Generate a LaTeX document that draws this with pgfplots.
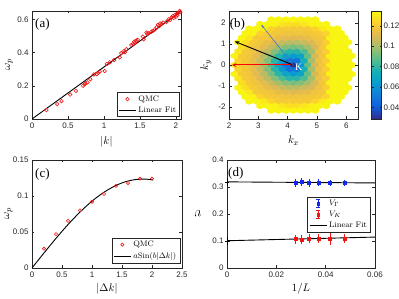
\documentclass[border=0pt]{standalone}
\usepackage{fontspec}
\usepackage{pgfplots}
\pgfplotsset{compat=1.18}
\usetikzlibrary{arrows.meta}
\newfontfamily\arialfont{Liberation Sans}
\newfontfamily\timesfont{Liberation Serif}
\definecolor{axgray}{RGB}{38,38,38}
\definecolor{arrblue}{RGB}{70,120,200}
\definecolor{mred}{RGB}{240,20,20}
\definecolor{ared}{RGB}{255,0,0}
\definecolor{mblue}{RGB}{20,40,240}
\pgfplotsset{
  colormap={parula}{rgb255=(53,42,135) rgb255=(15,92,221) rgb255=(18,125,216) rgb255=(7,156,207) rgb255=(21,177,180) rgb255=(89,189,140) rgb255=(165,190,107) rgb255=(225,185,82) rgb255=(252,206,46) rgb255=(249,251,14)},
  matlab/.style={scale only axis, anchor=south west,
    axis line style={axgray, line width=0.5pt},
    every tick/.style={axgray, line width=0.5pt},
    major tick length=2.5pt,
    scaled ticks=false,
    tick label style={font=\arialfont\fontsize{8}{9}\selectfont, text=axgray},
    label style={font=\fontsize{11}{12}\selectfont},
    legend style={font=\fontsize{8}{9}\selectfont, draw=axgray, line width=0.5pt, inner xsep=1.5pt, inner ysep=1pt},
    legend cell align=left,
  },
}
\pgfdeclareplotmark{hexa}{%
  \pgfpathmoveto{\pgfqpoint{0pt}{3.05pt}}%
  \pgfpathlineto{\pgfqpoint{3.68pt}{1.52pt}}%
  \pgfpathlineto{\pgfqpoint{3.68pt}{-1.52pt}}%
  \pgfpathlineto{\pgfqpoint{0pt}{-3.05pt}}%
  \pgfpathlineto{\pgfqpoint{-3.68pt}{-1.52pt}}%
  \pgfpathlineto{\pgfqpoint{-3.68pt}{1.52pt}}%
  \pgfpathclose
  \pgfusepathqfillstroke}
\begin{document}
\begin{tikzpicture}
\useasboundingbox (0,0) rectangle (399pt,299pt);
% ---------------- (a)
\begin{axis}[matlab, at={(32pt,180pt)}, width=149pt, height=108pt,
  xmin=0, xmax=2.07, ymin=0, ymax=0.65,
  xtick={0,0.5,1,1.5,2}, xticklabels={0,0.5,1,1.5,2},
  ytick={0,0.2,0.4,0.6}, yticklabels={0,0.2,0.4,0.6},
  xlabel={$|k|$}, ylabel={$\omega_p$},
  xlabel style={at={(axis description cs:0.5,-0.213)}, anchor=center},
  ylabel style={at={(axis description cs:-0.154,0.5)}, anchor=center},
  legend style={at={(0.993,0.0185)}, anchor=south east}]
\addplot[only marks, mark=o, mark size=1.8pt, mred, line width=0.6pt] coordinates {
(0.20,0.054) (0.35,0.090) (0.41,0.108) (0.53,0.147) (0.61,0.169) (0.71,0.200) (0.73,0.209) (0.74,0.215) (0.77,0.220) (0.81,0.239) (0.86,0.268) (0.90,0.270) (0.92,0.277) (0.94,0.285) (1.01,0.289) (1.04,0.331) (1.08,0.341) (1.14,0.355) (1.22,0.371) (1.24,0.396) (1.28,0.410) (1.29,0.402) (1.31,0.420) (1.38,0.445) (1.40,0.450) (1.42,0.466) (1.43,0.458) (1.45,0.472) (1.47,0.476) (1.55,0.480) (1.54,0.496) (1.59,0.520) (1.60,0.512) (1.62,0.516) (1.66,0.526) (1.68,0.530) (1.71,0.540) (1.73,0.552) (1.75,0.566) (1.77,0.560) (1.78,0.575) (1.80,0.572) (1.82,0.580) (1.87,0.585) (1.90,0.600) (1.92,0.596) (1.94,0.612) (1.96,0.620) (1.97,0.608) (1.99,0.627) (2.00,0.615) (2.01,0.633) (2.02,0.625) (2.03,0.637) (2.06,0.643) (2.05,0.650)};
\addlegendentry{QMC}
\addplot[black, line width=0.9pt] coordinates {(0,0) (2.07,0.648)};
\addlegendentry{Linear Fit}
\node[anchor=north west, inner sep=0pt, font=\timesfont\fontsize{13}{13}\selectfont] at (rel axis cs:0.02,0.935) {(a)};
\end{axis}
% ---------------- (b)
\begin{axis}[matlab, at={(229pt,180pt)}, width=129pt, height=108pt, axis on top, clip marker paths=true,
  xmin=2, xmax=6.4, ymin=-2.57, ymax=2.57,
  xtick={2,3,4,5,6}, xticklabels={2,3,4,5,6},
  ytick={-2,-1,0,1,2}, yticklabels={-2,-1,0,1,2},
  xlabel={$k_x$}, ylabel={$k_y$},
  xlabel style={at={(axis description cs:0.5,-0.2)}, anchor=center},
  ylabel style={at={(axis description cs:-0.178,0.5)}, anchor=center},
  colormap name=parula, point meta min=0.0285, point meta max=0.1345,
  colorbar,
  colorbar style={at={(parent axis.north east)}, anchor=north west, xshift=5pt, width=10pt,
    scaled y ticks=false,
    ytick={0.04,0.06,0.08,0.1,0.12}, yticklabels={0.04,0.06,0.08,0.1,0.12},
    yticklabel style={font=\arialfont\fontsize{8}{9}\selectfont, text=axgray, inner sep=0pt, xshift=2pt},
    axis line style={axgray, line width=0.5pt}, major tick length=2pt,
    every tick/.style={axgray, line width=0.5pt}}]
\addplot[scatter, only marks, mark=hexa, point meta=explicit,
  scatter/use mapped color={draw=mapped color, fill=mapped color}, mark options={line width=0.3pt}] coordinates {
(2.19,0)[0.130] (2.44,0)[0.120] (2.69,0)[0.117] (2.94,0)[0.110] (3.19,0)[0.099] (3.44,0)[0.085] (3.69,0)[0.068] (3.94,0)[0.049] (4.19,0)[0.030] (4.44,0)[0.061] (4.69,0)[0.089] (4.94,0)[0.109] (5.19,0)[0.119] (5.44,0)[0.132] (5.69,0)[0.133] (5.94,0)[0.133] (6.19,0)[0.133]
(2.315,0.2165)[0.124] (2.565,0.2165)[0.119] (2.815,0.2165)[0.114] (3.065,0.2165)[0.106] (3.315,0.2165)[0.094] (3.565,0.2165)[0.079] (3.815,0.2165)[0.063] (4.065,0.2165)[0.049] (4.315,0.2165)[0.049] (4.565,0.2165)[0.076] (4.815,0.2165)[0.100] (5.065,0.2165)[0.116] (5.315,0.2165)[0.122] (5.565,0.2165)[0.133] (5.815,0.2165)[0.133] (6.065,0.2165)[0.133]
(2.315,-0.2165)[0.124] (2.565,-0.2165)[0.119] (2.815,-0.2165)[0.114] (3.065,-0.2165)[0.106] (3.315,-0.2165)[0.094] (3.565,-0.2165)[0.079] (3.815,-0.2165)[0.063] (4.065,-0.2165)[0.049] (4.315,-0.2165)[0.049] (4.565,-0.2165)[0.076] (4.815,-0.2165)[0.100] (5.065,-0.2165)[0.116] (5.315,-0.2165)[0.122] (5.565,-0.2165)[0.133] (5.815,-0.2165)[0.133] (6.065,-0.2165)[0.133]
(2.19,0.433)[0.132] (2.44,0.433)[0.120] (2.69,0.433)[0.118] (2.94,0.433)[0.112] (3.19,0.433)[0.103] (3.44,0.433)[0.092] (3.69,0.433)[0.079] (3.94,0.433)[0.068] (4.19,0.433)[0.063] (4.44,0.433)[0.068] (4.69,0.433)[0.089] (4.94,0.433)[0.109] (5.19,0.433)[0.119] (5.44,0.433)[0.132] (5.69,0.433)[0.133] (5.94,0.433)[0.133] (6.19,0.433)[0.133]
(2.19,-0.433)[0.132] (2.44,-0.433)[0.120] (2.69,-0.433)[0.118] (2.94,-0.433)[0.112] (3.19,-0.433)[0.103] (3.44,-0.433)[0.092] (3.69,-0.433)[0.079] (3.94,-0.433)[0.068] (4.19,-0.433)[0.063] (4.44,-0.433)[0.068] (4.69,-0.433)[0.089] (4.94,-0.433)[0.109] (5.19,-0.433)[0.119] (5.44,-0.433)[0.132] (5.69,-0.433)[0.133] (5.94,-0.433)[0.133] (6.19,-0.433)[0.133]
(2.315,0.6495)[0.129] (2.565,0.6495)[0.120] (2.815,0.6495)[0.117] (3.065,0.6495)[0.111] (3.315,0.6495)[0.103] (3.565,0.6495)[0.094] (3.815,0.6495)[0.085] (4.065,0.6495)[0.079] (4.315,0.6495)[0.079] (4.565,0.6495)[0.085] (4.815,0.6495)[0.100] (5.065,0.6495)[0.116] (5.315,0.6495)[0.122] (5.565,0.6495)[0.133] (5.815,0.6495)[0.133] (6.065,0.6495)[0.133]
(2.315,-0.6495)[0.129] (2.565,-0.6495)[0.120] (2.815,-0.6495)[0.117] (3.065,-0.6495)[0.111] (3.315,-0.6495)[0.103] (3.565,-0.6495)[0.094] (3.815,-0.6495)[0.085] (4.065,-0.6495)[0.079] (4.315,-0.6495)[0.079] (4.565,-0.6495)[0.085] (4.815,-0.6495)[0.100] (5.065,-0.6495)[0.116] (5.315,-0.6495)[0.122] (5.565,-0.6495)[0.133] (5.815,-0.6495)[0.133] (6.065,-0.6495)[0.133]
(2.44,0.866)[0.127] (2.69,0.866)[0.120] (2.94,0.866)[0.117] (3.19,0.866)[0.112] (3.44,0.866)[0.106] (3.69,0.866)[0.099] (3.94,0.866)[0.094] (4.19,0.866)[0.092] (4.44,0.866)[0.094] (4.69,0.866)[0.099] (4.94,0.866)[0.109] (5.19,0.866)[0.119] (5.44,0.866)[0.132] (5.69,0.866)[0.133] (5.94,0.866)[0.133]
(2.44,-0.866)[0.127] (2.69,-0.866)[0.120] (2.94,-0.866)[0.117] (3.19,-0.866)[0.112] (3.44,-0.866)[0.106] (3.69,-0.866)[0.099] (3.94,-0.866)[0.094] (4.19,-0.866)[0.092] (4.44,-0.866)[0.094] (4.69,-0.866)[0.099] (4.94,-0.866)[0.109] (5.19,-0.866)[0.119] (5.44,-0.866)[0.132] (5.69,-0.866)[0.133] (5.94,-0.866)[0.133]
(2.315,1.0825)[0.133] (2.565,1.0825)[0.127] (2.815,1.0825)[0.120] (3.065,1.0825)[0.118] (3.315,1.0825)[0.114] (3.565,1.0825)[0.110] (3.815,1.0825)[0.106] (4.065,1.0825)[0.103] (4.315,1.0825)[0.103] (4.565,1.0825)[0.106] (4.815,1.0825)[0.110] (5.065,1.0825)[0.116] (5.315,1.0825)[0.122] (5.565,1.0825)[0.133] (5.815,1.0825)[0.133] (6.065,1.0825)[0.133]
(2.315,-1.0825)[0.133] (2.565,-1.0825)[0.127] (2.815,-1.0825)[0.120] (3.065,-1.0825)[0.118] (3.315,-1.0825)[0.114] (3.565,-1.0825)[0.110] (3.815,-1.0825)[0.106] (4.065,-1.0825)[0.103] (4.315,-1.0825)[0.103] (4.565,-1.0825)[0.106] (4.815,-1.0825)[0.110] (5.065,-1.0825)[0.116] (5.315,-1.0825)[0.122] (5.565,-1.0825)[0.133] (5.815,-1.0825)[0.133] (6.065,-1.0825)[0.133]
(2.44,1.299)[0.133] (2.69,1.299)[0.129] (2.94,1.299)[0.120] (3.19,1.299)[0.119] (3.44,1.299)[0.117] (3.69,1.299)[0.114] (3.94,1.299)[0.112] (4.19,1.299)[0.111] (4.44,1.299)[0.112] (4.69,1.299)[0.114] (4.94,1.299)[0.117] (5.19,1.299)[0.119] (5.44,1.299)[0.132] (5.69,1.299)[0.133] (5.94,1.299)[0.133]
(2.44,-1.299)[0.133] (2.69,-1.299)[0.129] (2.94,-1.299)[0.120] (3.19,-1.299)[0.119] (3.44,-1.299)[0.117] (3.69,-1.299)[0.114] (3.94,-1.299)[0.112] (4.19,-1.299)[0.111] (4.44,-1.299)[0.112] (4.69,-1.299)[0.114] (4.94,-1.299)[0.117] (5.19,-1.299)[0.119] (5.44,-1.299)[0.132] (5.69,-1.299)[0.133] (5.94,-1.299)[0.133]
(2.565,1.5155)[0.133] (2.815,1.5155)[0.132] (3.065,1.5155)[0.124] (3.315,1.5155)[0.120] (3.565,1.5155)[0.119] (3.815,1.5155)[0.118] (4.065,1.5155)[0.117] (4.315,1.5155)[0.117] (4.565,1.5155)[0.118] (4.815,1.5155)[0.119] (5.065,1.5155)[0.120] (5.315,1.5155)[0.124] (5.565,1.5155)[0.133] (5.815,1.5155)[0.133]
(2.565,-1.5155)[0.133] (2.815,-1.5155)[0.132] (3.065,-1.5155)[0.124] (3.315,-1.5155)[0.120] (3.565,-1.5155)[0.119] (3.815,-1.5155)[0.118] (4.065,-1.5155)[0.117] (4.315,-1.5155)[0.117] (4.565,-1.5155)[0.118] (4.815,-1.5155)[0.119] (5.065,-1.5155)[0.120] (5.315,-1.5155)[0.124] (5.565,-1.5155)[0.133] (5.815,-1.5155)[0.133]
(2.69,1.732)[0.133] (2.94,1.732)[0.133] (3.19,1.732)[0.130] (3.44,1.732)[0.124] (3.69,1.732)[0.120] (3.94,1.732)[0.120] (4.19,1.732)[0.120] (4.44,1.732)[0.120] (4.69,1.732)[0.120] (4.94,1.732)[0.124] (5.19,1.732)[0.130] (5.44,1.732)[0.133] (5.69,1.732)[0.133]
(2.69,-1.732)[0.133] (2.94,-1.732)[0.133] (3.19,-1.732)[0.130] (3.44,-1.732)[0.124] (3.69,-1.732)[0.120] (3.94,-1.732)[0.120] (4.19,-1.732)[0.120] (4.44,-1.732)[0.120] (4.69,-1.732)[0.120] (4.94,-1.732)[0.124] (5.19,-1.732)[0.130] (5.44,-1.732)[0.133] (5.69,-1.732)[0.133]
(3.065,1.9485)[0.133] (3.315,1.9485)[0.133] (3.565,1.9485)[0.132] (3.815,1.9485)[0.129] (4.065,1.9485)[0.127] (4.315,1.9485)[0.127] (4.565,1.9485)[0.129] (4.815,1.9485)[0.132] (5.065,1.9485)[0.133] (5.315,1.9485)[0.133]
(3.065,-1.9485)[0.133] (3.315,-1.9485)[0.133] (3.565,-1.9485)[0.132] (3.815,-1.9485)[0.129] (4.065,-1.9485)[0.127] (4.315,-1.9485)[0.127] (4.565,-1.9485)[0.129] (4.815,-1.9485)[0.132] (5.065,-1.9485)[0.133] (5.315,-1.9485)[0.133]
(3.44,2.165)[0.133] (3.69,2.165)[0.133] (3.94,2.165)[0.133] (4.19,2.165)[0.133] (4.44,2.165)[0.133] (4.69,2.165)[0.133] (4.94,2.165)[0.133]
(3.44,-2.165)[0.133] (3.69,-2.165)[0.133] (3.94,-2.165)[0.133] (4.19,-2.165)[0.133] (4.44,-2.165)[0.133] (4.69,-2.165)[0.133] (4.94,-2.165)[0.133]
};
\addplot[ared, line width=1pt, -{Stealth[length=4.5pt,width=4pt]}] coordinates {(4.19,0) (2.1,0)};
\addplot[black, line width=0.9pt, -{Stealth[length=4.5pt,width=3.5pt]}] coordinates {(4.19,0) (2.2,1.12)};
\addplot[arrblue, line width=0.6pt, -{Stealth[length=3.5pt,width=2.5pt]}] coordinates {(4.19,0) (3.1,1.92)};
\node[text=white, font=\timesfont\fontsize{10}{10}\selectfont] at (axis cs:4.38,-0.1) {K};
\node[anchor=north west, inner sep=0pt, font=\timesfont\fontsize{13}{13}\selectfont] at (rel axis cs:0.005,0.935) {(b)};
\end{axis}
% ---------------- (c)
\begin{axis}[matlab, at={(32pt,31pt)}, width=150pt, height=108pt,
  xmin=0, xmax=2.5, ymin=0, ymax=0.15,
  xtick={0,0.5,1,1.5,2,2.5}, xticklabels={0,0.5,1,1.5,2,2.5},
  ytick={0,0.05,0.1,0.15}, yticklabels={0,0.05,0.1,0.15},
  xlabel={$|\Delta k|$}, ylabel={$\omega_p$},
  xlabel style={at={(axis description cs:0.5,-0.194)}, anchor=center},
  ylabel style={at={(axis description cs:-0.157,0.5)}, anchor=center},
  legend style={at={(0.987,0.046)}, anchor=south east}]
\addplot[only marks, mark=o, mark size=1.6pt, mred, line width=0.6pt] coordinates {
(0.2,0.0268) (0.4,0.047) (0.6,0.0655) (0.8,0.080) (1.0,0.092) (1.2,0.103) (1.4,0.114) (1.6,0.118) (1.8,0.124) (2.0,0.124)};
\addlegendentry{QMC}
\addplot[black, line width=0.9pt, smooth] coordinates {
(0,0) (0.1,0.0105) (0.2,0.0209) (0.3,0.0311) (0.4,0.0412) (0.5,0.0509) (0.6,0.0603) (0.7,0.0692) (0.8,0.0777) (0.9,0.0855) (1.0,0.0928) (1.1,0.0994) (1.2,0.1052) (1.3,0.1103) (1.4,0.1147) (1.5,0.1182) (1.6,0.1208) (1.7,0.1225) (1.8,0.1234) (1.9,0.1234) (2.0,0.1225) (2.02,0.1222)};
\addlegendentry{$a\mathrm{Sin}(b|\Delta k|)$}
\node[anchor=north west, inner sep=0pt, font=\timesfont\fontsize{13}{13}\selectfont] at (rel axis cs:0.02,0.926) {(c)};
\end{axis}
% ---------------- (d)
\begin{axis}[matlab, at={(227pt,31pt)}, width=148pt, height=108pt,
  xmin=0, xmax=0.06, ymin=0, ymax=0.4,
  xtick={0,0.02,0.04,0.06}, xticklabels={0,0.02,0.04,0.06},
  ytick={0,0.1,0.2,0.3,0.4}, yticklabels={0,0.1,0.2,0.3,0.4},
  xlabel={$1/L$}, ylabel={$v$},
  xlabel style={at={(axis description cs:0.5,-0.194)}, anchor=center},
  ylabel style={at={(axis description cs:-0.196,0.5)}, anchor=center, rotate=90, font=\fontsize{15}{16}\selectfont},
  legend style={at={(0.971,0.66)}, anchor=north east}]
\addplot[only marks, mark=square*, mark size=1.5pt, mblue,
  legend image code/.code={\draw[mblue, line width=0.6pt] (0.3cm,-0.13cm) -- (0.3cm,0.13cm) (0.24cm,0.13cm) -- (0.36cm,0.13cm) (0.24cm,-0.13cm) -- (0.36cm,-0.13cm); \fill[mblue] (0.25cm,-0.05cm) rectangle (0.35cm,0.05cm);},
  error bars/.cd, y dir=both, y explicit, error bar style={line width=0.6pt}, error mark options={mark size=2pt, line width=0.6pt}] coordinates {
(0.0278,0.316) +- (0,0.008) (0.0303,0.318) +- (0,0.008) (0.0333,0.316) +- (0,0.007) (0.0370,0.317) +- (0,0.006) (0.0417,0.316) +- (0,0.004) (0.0476,0.315) +- (0,0.005)};
\addlegendentry{$V_\Gamma$}
\addplot[only marks, mark=square*, mark size=1.5pt, mred,
  legend image code/.code={\draw[mred, line width=0.6pt] (0.3cm,-0.13cm) -- (0.3cm,0.13cm) (0.24cm,0.13cm) -- (0.36cm,0.13cm) (0.24cm,-0.13cm) -- (0.36cm,-0.13cm); \fill[mred] (0.25cm,-0.05cm) rectangle (0.35cm,0.05cm);},
  error bars/.cd, y dir=both, y explicit, error bar style={line width=0.6pt}, error mark options={mark size=2pt, line width=0.6pt}] coordinates {
(0.0278,0.107) +- (0,0.009) (0.0303,0.106) +- (0,0.009) (0.0333,0.108) +- (0,0.009) (0.0370,0.110) +- (0,0.009) (0.0417,0.108) +- (0,0.015) (0.0476,0.109) +- (0,0.008)};
\addlegendentry{$V_K$}
\addplot[black, line width=0.9pt] coordinates {(0,0.319) (0.06,0.315)};
\addlegendentry{Linear Fit}
\addplot[black, line width=0.9pt, forget plot] coordinates {(0,0.101) (0.06,0.1145)};
\addplot[black, only marks, mark=-, mark size=2pt, forget plot,
  error bars/.cd, y dir=both, y explicit, error bar style={line width=0.7pt}, error mark options={mark size=2pt, line width=0.7pt}] coordinates {
(0,0.319) +- (0,0.008) (0,0.101) +- (0,0.008)};
\node[anchor=north west, inner sep=0pt, font=\timesfont\fontsize{13}{13}\selectfont] at (rel axis cs:0.007,0.935) {(d)};
\end{axis}
\end{tikzpicture}
\end{document}
